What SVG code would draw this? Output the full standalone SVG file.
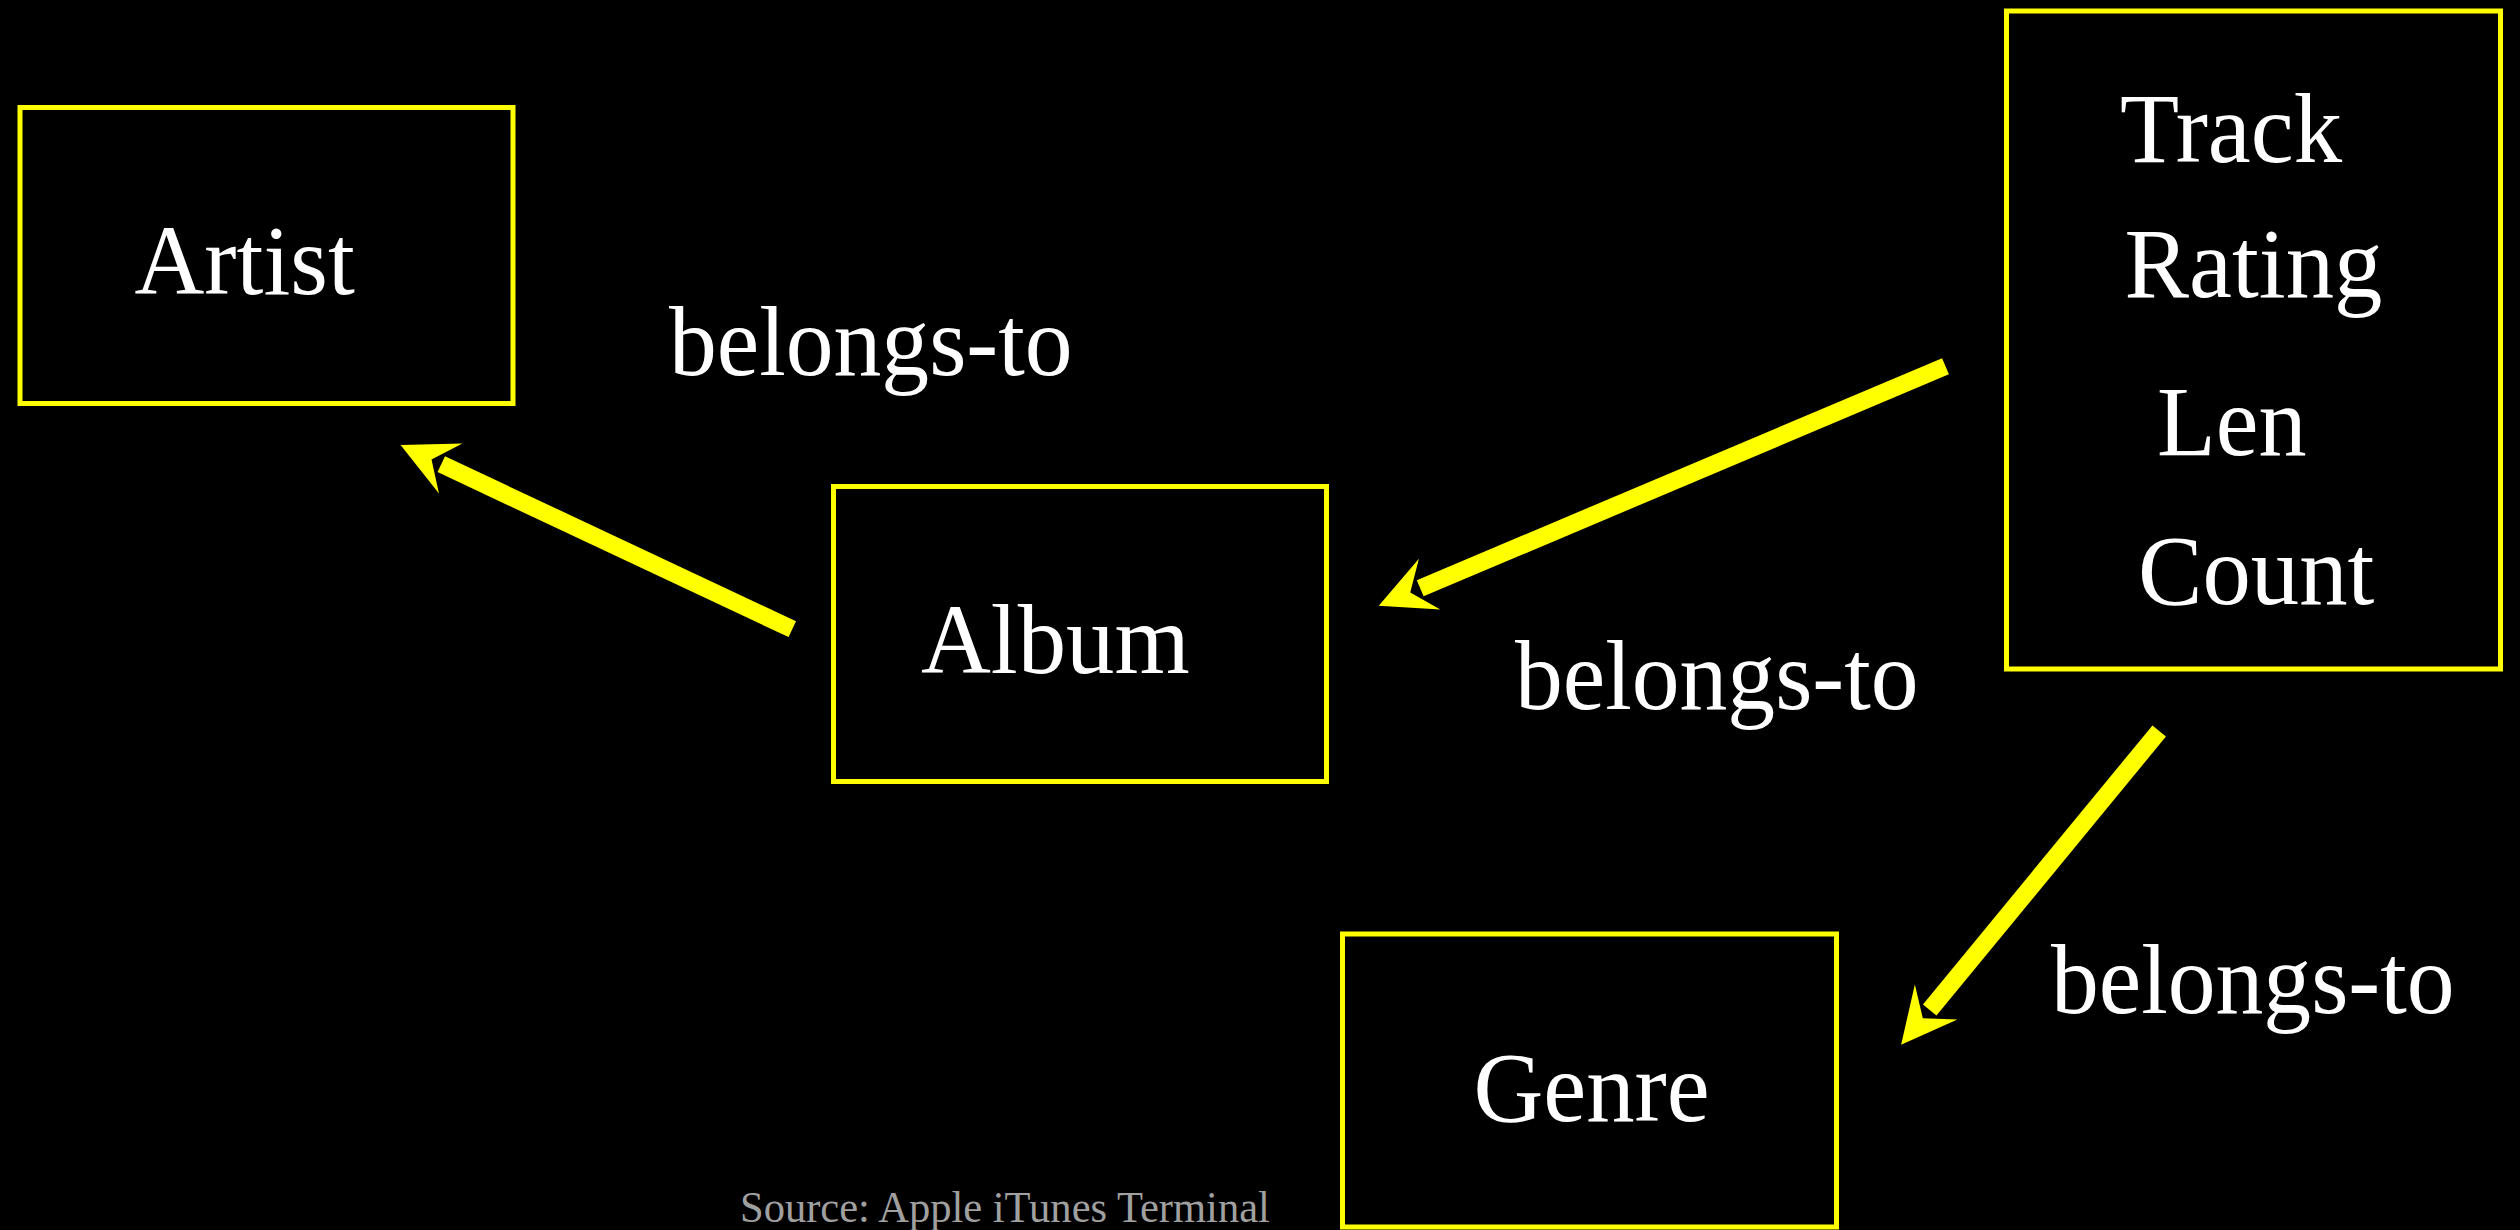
<svg xmlns="http://www.w3.org/2000/svg" width="2520" height="1230" viewBox="0 0 2520 1230">
  <style>
    .box { fill: #000; stroke: #FFFF00; stroke-width: 5; }
    .lbl { fill: #FFF; font-family: "Liberation Serif", "Times New Roman", serif; font-size: 100px; }
    .src { fill: #A0A0A0; font-family: "Liberation Serif", "Times New Roman", serif; font-size: 44px; }
    .edge { stroke: #FFFF00; stroke-width: 17.5; stroke-linecap: butt; fill: none; marker-end: url(#head); }
  </style>
  <defs>
    <!-- split stealth arrowhead, sits just past the square end of the shaft -->
    <marker id="head" viewBox="-12 -30 60 60" refX="0" refY="0" markerWidth="60" markerHeight="60" markerUnits="userSpaceOnUse" orient="auto">
      <path d="M45,0 L-10.3,27.7 L10.8,0 L-10.3,-27.4 Z" fill="#FFFF00"/>
    </marker>
  </defs>

  <rect width="2520" height="1230" fill="#000"/>

  <g id="artist">
    <rect class="box" x="20" y="107.5" width="493" height="296"/>
    <text class="lbl" transform="translate(134.5,294) scale(0.967,1)">Artist</text>
  </g>

  <g id="album">
    <rect class="box" x="833.5" y="486.5" width="493" height="295"/>
    <text class="lbl" transform="translate(921,673) scale(0.967,1)">Album</text>
  </g>

  <g id="track">
    <rect class="box" x="2006.5" y="11" width="494" height="658"/>
    <text class="lbl" transform="translate(2120,162) scale(0.967,1)">Track</text>
    <text class="lbl" transform="translate(2124.5,297) scale(0.967,1)">Rating</text>
    <text class="lbl" transform="translate(2157,455) scale(0.962,1)">Len</text>
    <text class="lbl" transform="translate(2138,604) scale(0.967,1)">Count</text>
  </g>

  <g id="genre">
    <rect class="box" x="1342.5" y="934" width="494" height="293"/>
    <text class="lbl" transform="translate(1473.5,1121) scale(0.967,1)">Genre</text>
  </g>

  <g id="connectors">
    <line class="edge" x1="792.3" y1="629.2" x2="441.3" y2="464.2"/>
    <line class="edge" x1="1945.5" y1="366.2" x2="1420.2" y2="588.3"/>
    <line class="edge" x1="2159.2" y1="731" x2="1929.7" y2="1010"/>
    <text class="lbl" transform="translate(669,375) scale(0.956,1)">belongs-to</text>
    <text class="lbl" transform="translate(1515,709) scale(0.956,1)">belongs-to</text>
    <text class="lbl" transform="translate(2051,1013) scale(0.956,1)">belongs-to</text>
  </g>

  <text class="src" transform="translate(740,1222) scale(0.967,1)">Source: Apple iTunes Terminal</text>
</svg>
